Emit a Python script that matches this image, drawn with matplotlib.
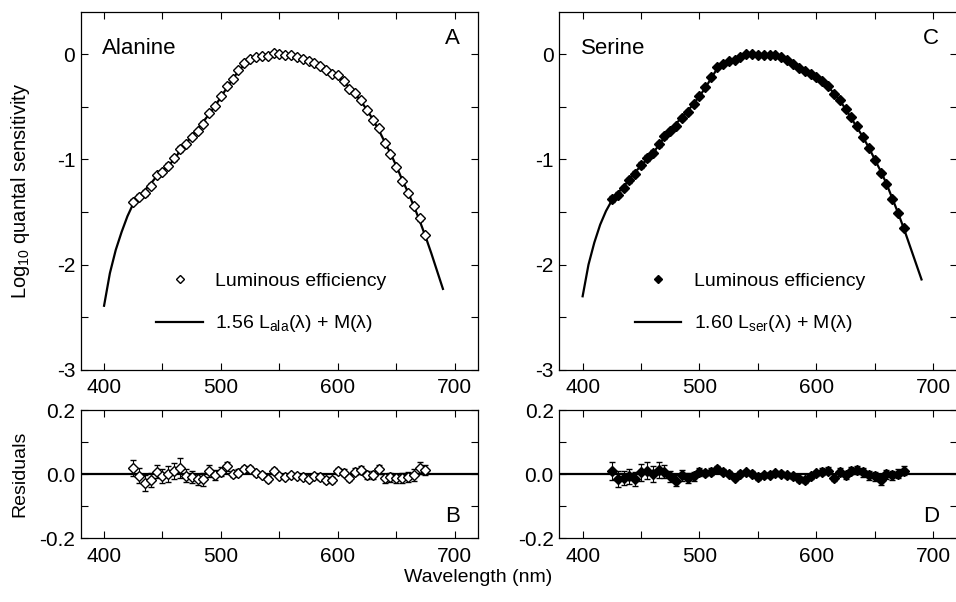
import numpy as np
import matplotlib.pyplot as plt
from matplotlib.ticker import MultipleLocator

plt.rcParams['font.family'] = ['Liberation Sans', 'DejaVu Sans']
plt.rcParams['axes.unicode_minus'] = False
plt.rcParams['mathtext.default'] = 'regular'
plt.rcParams['font.size'] = 14

# wavelengths (nm)
wl_fit = np.arange(400, 691, 5)
wl_data = np.arange(425, 676, 5)

# Alanine: fitted curve 1.56 L_ala + M
fit_ala = [-2.39, -2.08, -1.86, -1.69, -1.54, -1.42, -1.35, -1.29, -1.23, -1.16,
           -1.11, -1.06, -1.00, -0.92, -0.85, -0.78, -0.71, -0.64, -0.57, -0.49,
           -0.41, -0.32, -0.24, -0.16, -0.10, -0.06, -0.035, -0.015, -0.003, 0.003,
           0.003, -0.002, -0.01, -0.02, -0.035, -0.055, -0.08, -0.105, -0.135, -0.17,
           -0.21, -0.26, -0.32, -0.38, -0.45, -0.53, -0.62, -0.72, -0.83, -0.94,
           -1.06, -1.19, -1.31, -1.44, -1.58, -1.73, -1.89, -2.06, -2.23]
lum_ala = [-1.40, -1.355, -1.32, -1.25, -1.15, -1.12, -1.06, -0.99, -0.90, -0.855,
           -0.79, -0.73, -0.66, -0.56, -0.49, -0.40, -0.30, -0.24, -0.155, -0.083,
           -0.043, -0.032, -0.017, -0.018, 0.013, -0.002, -0.011, -0.012, -0.025, -0.044,
           -0.07, -0.085, -0.114, -0.153, -0.188, -0.20, -0.255, -0.332, -0.372, -0.438,
           -0.532, -0.622, -0.704, -0.842, -0.949, -1.072, -1.202, -1.319, -1.442, -1.561,
           -1.716]
res_ala = [0.019, -0.005, -0.028, -0.018, 0.008, -0.005, 0.001, 0.010, 0.019, -0.005,
           -0.009, -0.016, -0.016, 0.010, -0.002, 0.008, 0.024, 0.001, 0.005, 0.017,
           0.017, 0.003, -0.002, -0.015, 0.010, -0.005, -0.009, -0.002, -0.005, -0.009,
           -0.015, -0.005, -0.009, -0.018, -0.018, 0.010, 0.005, -0.012, 0.008, 0.012,
           -0.002, -0.002, 0.016, -0.012, -0.009, -0.012, -0.012, -0.009, -0.002, 0.019,
           0.014]
err_ala = [0.026, 0.024, 0.025, 0.022, 0.020, 0.022, 0.024, 0.024, 0.030, 0.020,
           0.018, 0.018, 0.020, 0.018, 0.016, 0.014, 0.014, 0.010, 0.010, 0.010,
           0.010, 0.008, 0.008, 0.008, 0.008, 0.006, 0.006, 0.006, 0.006, 0.006,
           0.006, 0.006, 0.008, 0.008, 0.008, 0.010, 0.010, 0.010, 0.012, 0.012,
           0.012, 0.012, 0.014, 0.014, 0.014, 0.014, 0.016, 0.016, 0.018, 0.020,
           0.016]

# Serine: fitted curve 1.60 L_ser + M
fit_ser = [-2.30, -2.00, -1.79, -1.62, -1.49, -1.39, -1.32, -1.26, -1.19, -1.12,
           -1.06, -1.00, -0.94, -0.87, -0.79, -0.72, -0.66, -0.60, -0.54, -0.47,
           -0.40, -0.32, -0.23, -0.14, -0.10, -0.07, -0.045, -0.025, -0.008, 0.0,
           0.0, 0.0, -0.003, -0.01, -0.03, -0.055, -0.085, -0.115, -0.145, -0.18,
           -0.22, -0.26, -0.31, -0.37, -0.44, -0.52, -0.61, -0.70, -0.79, -0.89,
           -1.00, -1.11, -1.23, -1.37, -1.51, -1.66, -1.82, -1.98, -2.14]
lum_ser = [-1.379, -1.335, -1.271, -1.197, -1.135, -1.054, -0.989, -0.939, -0.857, -0.782,
           -0.727, -0.68, -0.604, -0.551, -0.477, -0.394, -0.317, -0.222, -0.123, -0.092,
           -0.069, -0.056, -0.024, -0.002, 0.001, -0.01, -0.004, -0.005, -0.007, -0.029,
           -0.059, -0.092, -0.13, -0.163, -0.187, -0.217, -0.252, -0.299, -0.381, -0.434,
           -0.524, -0.599, -0.687, -0.784, -0.894, -1.007, -1.128, -1.231, -1.374, -1.509,
           -1.649]
res_ser = [0.011, -0.015, -0.011, -0.007, -0.015, 0.006, 0.011, 0.001, 0.013, 0.008,
           -0.007, -0.020, -0.004, -0.011, -0.007, 0.006, 0.003, 0.008, 0.017, 0.008,
           0.001, -0.011, 0.001, 0.006, 0.001, -0.010, -0.004, -0.002, 0.003, 0.001,
           -0.004, -0.007, -0.015, -0.018, -0.007, 0.003, 0.008, 0.011, -0.011, 0.006,
           -0.004, 0.011, 0.013, 0.006, -0.004, -0.007, -0.018, -0.001, -0.004, 0.001,
           0.011]
err_ser = [0.028, 0.025, 0.022, 0.024, 0.022, 0.026, 0.026, 0.024, 0.026, 0.020,
           0.016, 0.016, 0.018, 0.016, 0.014, 0.012, 0.010, 0.010, 0.010, 0.008,
           0.008, 0.008, 0.008, 0.008, 0.008, 0.008, 0.008, 0.008, 0.008, 0.008,
           0.008, 0.008, 0.008, 0.008, 0.008, 0.008, 0.010, 0.010, 0.010, 0.012,
           0.012, 0.012, 0.014, 0.014, 0.014, 0.014, 0.016, 0.014, 0.014, 0.014,
           0.014]

fig = plt.figure(figsize=(9.56, 6.02), dpi=100)
axA = fig.add_axes([0.0844, 0.3854, 0.4156, 0.5947])
axB = fig.add_axes([0.0844, 0.1058, 0.4156, 0.2131])
axC = fig.add_axes([0.5850, 0.3854, 0.4156, 0.5947])
axD = fig.add_axes([0.5850, 0.1058, 0.4156, 0.2131])


def style(ax, top):
    ax.set_xlim(380, 720)
    ax.xaxis.set_major_locator(MultipleLocator(100))
    ax.xaxis.set_minor_locator(MultipleLocator(50))
    if top:
        ax.set_ylim(-3, 0.4)
        ax.yaxis.set_major_locator(MultipleLocator(1))
        ax.yaxis.set_minor_locator(MultipleLocator(0.5))
    else:
        ax.set_ylim(-0.2, 0.2)
        ax.yaxis.set_major_locator(MultipleLocator(0.2))
        ax.yaxis.set_minor_locator(MultipleLocator(0.1))
        ax.yaxis.set_major_formatter(plt.FormatStrFormatter('%.1f'))
    ax.tick_params(which='both', direction='in', top=True, right=True,
                   length=5, width=0.8, labelsize=15)
    ax.tick_params(axis='x', pad=6)
    ax.tick_params(axis='y', pad=4)
    for s in ax.spines.values():
        s.set_linewidth(0.9)


for ax, fit, lum, err, name, letter, lab, coef, face in [
        (axA, fit_ala, lum_ala, err_ala, 'Alanine', 'A', 'ala', '1.56', 'white'),
        (axC, fit_ser, lum_ser, err_ser, 'Serine', 'C', 'ser', '1.60', 'black')]:
    line, = ax.plot(wl_fit, fit, color='black', lw=1.6, zorder=2)
    ax.errorbar(wl_data, lum, yerr=err, fmt='D', ms=5, mfc=face, mec='black',
                mew=1, ecolor='black', elinewidth=0.8, capsize=2.5, capthick=0.8,
                zorder=3)
    pts, = ax.plot([], [], 'D', ms=4.5, mfc=face, mec='black', mew=1)
    ax.legend([pts, line], ['Luminous efficiency',
                            coef + ' L$_\\mathregular{' + lab + '}$(λ) + M(λ)'],
              loc='center left', bbox_to_anchor=(0.19, 0.186), frameon=False,
              borderpad=0, borderaxespad=0, handlelength=2.4, handletextpad=0.65,
              labelspacing=1.2, fontsize=14)
    ax.text(0.054, 0.897, name, transform=ax.transAxes, va='center', fontsize=16)
    ax.text(0.935, 0.927, letter, transform=ax.transAxes, ha='center',
            va='center', fontsize=16)
    style(ax, True)

for ax, res, err, face, letter in [(axB, res_ala, err_ala, 'white', 'B'),
                                   (axD, res_ser, err_ser, 'black', 'D')]:
    ax.axhline(0, color='black', lw=1.6, zorder=2)
    ax.errorbar(wl_data, res, yerr=err, fmt='D', ms=5, mfc=face, mec='black',
                mew=1, ecolor='black', elinewidth=0.8, capsize=2.5, capthick=0.8,
                zorder=3)
    ax.text(0.935, 0.17, letter, transform=ax.transAxes, ha='center',
            va='center', fontsize=16)
    style(ax, False)

fig.text(0.021, 0.683, 'Log$_\\mathregular{10}$ quantal sensitivity', rotation=90,
         ha='center', va='center', fontsize=14.5)
fig.text(0.021, 0.2126, 'Residuals', rotation=90, ha='center', va='center',
         fontsize=14)
fig.text(0.5, 0.04, 'Wavelength (nm)', ha='center', va='center', fontsize=14)

fig.savefig('out.png', dpi=100)
